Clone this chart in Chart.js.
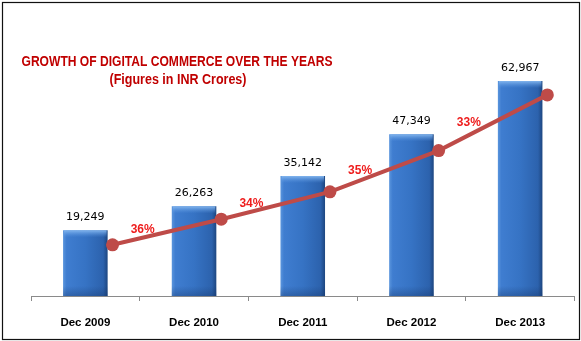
<!DOCTYPE html>
<html>
<head>
<meta charset="utf-8">
<script src="https://cdn.jsdelivr.net/npm/chart.js@4"></script>
<style>
  html, body { margin: 0; padding: 0; background: #fff; }
  #wrap { position: relative; width: 581px; height: 341px; }
</style>
</head>
<body>
<div id="wrap"><canvas id="growthChart" width="581" height="341"></canvas></div>
<script>
const categories = ['Dec 2009', 'Dec 2010', 'Dec 2011', 'Dec 2012', 'Dec 2013'];
const commerceValues = [19249, 26263, 35142, 47349, 62967];
const trendValues = [15000, 22500, 30500, 42600, 58900];
const growthLabels = ['36%', '34%', '35%', '33%'];
const titleLines = ['GROWTH OF DIGITAL COMMERCE OVER THE YEARS', '(Figures in INR Crores)'];

const LINE_SHIFT = 0.25; // line points sit just right of each bar
const BAR_PCT = 0.41;

// horizontal shading for the bars
function barFill(ctx) {
  const chart = ctx.chart;
  const xs = chart.scales.x;
  if (!xs || !chart.chartArea) return '#3873c4';
  const cx = xs.getPixelForValue(ctx.dataIndex);
  const w = (xs.width / categories.length) * BAR_PCT;
  const g = chart.ctx.createLinearGradient(cx - w / 2, 0, cx + w / 2, 0);
  g.addColorStop(0, '#5a95dd');
  g.addColorStop(0.08, '#3f7dd0');
  g.addColorStop(0.5, '#3673c4');
  g.addColorStop(0.9, '#2c62ad');
  g.addColorStop(1, '#1d4680');
  return g;
}

const framePlugin = {
  id: 'frame',
  beforeDraw(chart) {
    const c = chart.ctx;
    c.save();
    c.fillStyle = '#fff';
    c.fillRect(0, 0, chart.width, chart.height);
    c.restore();
  },
  afterDraw(chart) {
    const c = chart.ctx;
    c.save();
    c.strokeStyle = '#111';
    c.lineWidth = 1.2;
    c.strokeRect(2.5, 2.5, 577, 337);

    // title, squeezed to the width it has in the original
    c.fillStyle = '#c00000';
    c.textAlign = 'center';
    c.textBaseline = 'middle';
    const specs = [
      { text: titleLines[0], x: 177, y: 62, w: 311 },
      { text: titleLines[1], x: 178, y: 80, w: 137 }
    ];
    c.font = 'bold 14px "Liberation Sans", Arial, sans-serif';
    specs.forEach(s => {
      const mw = c.measureText(s.text).width;
      const k = Math.min(1, s.w / mw);
      c.save();
      c.translate(s.x, s.y);
      c.scale(k, 1);
      c.fillText(s.text, 0, 0);
      c.restore();
    });
    c.restore();
  }
};

const barLook = {
  id: 'barLook',
  afterDatasetDraw(chart, args) {
    if (args.index !== 0) return;
    const c = chart.ctx;
    c.save();
    args.meta.data.forEach(bar => {
      const left = bar.x - bar.width / 2;
      const top = bar.y;
      const g = c.createLinearGradient(0, top, 0, top + 7);
      g.addColorStop(0, 'rgba(135,185,240,0.95)');
      g.addColorStop(1, 'rgba(90,150,225,0)');
      c.fillStyle = g;
      c.fillRect(left + 1, top, bar.width - 2, 7);
      const b = c.createLinearGradient(0, bar.base - 10, 0, bar.base);
      b.addColorStop(0, 'rgba(20,50,100,0)');
      b.addColorStop(1, 'rgba(20,50,100,0.35)');
      c.fillStyle = b;
      c.fillRect(left, bar.base - 10, bar.width, 10);
    });
    c.restore();
  },
  afterDatasetsDraw(chart) {
    const c = chart.ctx;
    c.save();
    // bar values
    c.fillStyle = '#000';
    c.font = '11px "DejaVu Sans", sans-serif';
    c.textAlign = 'center';
    c.textBaseline = 'middle';
    chart.getDatasetMeta(0).data.forEach((bar, i) => {
      c.fillText(commerceValues[i].toLocaleString('en-US'), bar.x, bar.y - 13);
    });
    // growth labels above the line
    const pts = chart.getDatasetMeta(1).data;
    const x2 = chart.scales.x2;
    c.fillStyle = '#ee1c1c';
    c.font = 'bold 12px "Liberation Sans", Arial, sans-serif';
    growthLabels.forEach((txt, i) => {
      const a = pts[i], b = pts[i + 1];
      const px = x2.getPixelForValue(i + 0.5) + 3;
      const slope = (b.y - a.y) / (b.x - a.x);
      const py = a.y + slope * (px - a.x);
      c.fillText(txt, px, py - (4 + 16 * Math.abs(slope)));
    });
    c.restore();
  }
};

new Chart(document.getElementById('growthChart'), {
  type: 'bar',
  data: {
    labels: categories,
    datasets: [
      {
        type: 'bar',
        data: commerceValues,
        backgroundColor: barFill,
        borderWidth: 0,
        grouped: false,
        barPercentage: BAR_PCT,
        categoryPercentage: 1,
        order: 1
      },
      {
        type: 'line',
        xAxisID: 'x2',
        data: trendValues.map((v, i) => ({ x: i + LINE_SHIFT, y: v })),
        borderColor: '#be4b48',
        borderWidth: 4,
        pointRadius: 6.5,
        pointBackgroundColor: '#be4b48',
        pointBorderWidth: 0,
        tension: 0,
        order: 0
      }
    ]
  },
  options: {
    responsive: false,
    animation: false,
    events: [],
    layout: { padding: { left: 31, right: 5, top: 57, bottom: 0 } },
    plugins: {
      legend: { display: false },
      tooltip: { enabled: false },
      title: { display: false }
    },
    scales: {
      x: {
        offset: true,
        grid: {
          offset: true,
          drawOnChartArea: false,
          drawTicks: true,
          tickLength: 5,
          color: '#8a8a8a'
        },
        border: { display: true, color: '#8a8a8a', width: 1 },
        ticks: {
          color: '#000',
          padding: 17,
          font: { family: '"Liberation Sans", Arial, sans-serif', size: 11.5, weight: 'bold', lineHeight: 0.85 }
        },
        afterFit(scale) { scale.height = 45; }
      },
      x2: {
        type: 'linear',
        display: false,
        offset: false,
        grid: { offset: false },
        min: -0.5,
        max: categories.length - 0.5
      },
      y: {
        display: false,
        min: 0,
        max: 70000
      }
    }
  },
  plugins: [framePlugin, barLook]
});
</script>
</body>
</html>
